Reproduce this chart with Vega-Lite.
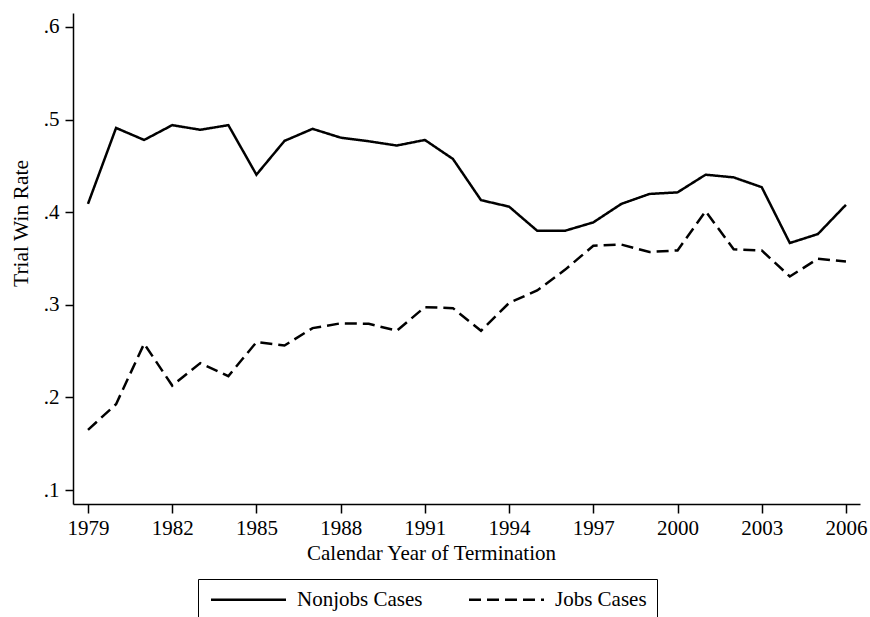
{
  "$schema": "https://vega.github.io/schema/vega-lite/v6.json",
  "width": 787,
  "height": 491,
  "autosize": {"type": "none"},
  "padding": {"left": 73, "top": 13, "right": 10, "bottom": 113},
  "background": "white",
  "config": {
    "view": {"stroke": null},
    "font": "Liberation Serif",
    "axis": {
      "grid": false,
      "domainColor": "black",
      "domainWidth": 1.5,
      "tickColor": "black",
      "tickWidth": 1.5,
      "labelFont": "Liberation Serif",
      "labelFontSize": 21,
      "labelColor": "black",
      "titleFont": "Liberation Serif",
      "titleFontSize": 21,
      "titleFontWeight": "normal",
      "titleColor": "black"
    }
  },
  "data": {
    "values": [
      {"year": 1979, "series": "Nonjobs Cases", "rate": 0.409},
      {"year": 1980, "series": "Nonjobs Cases", "rate": 0.491},
      {"year": 1981, "series": "Nonjobs Cases", "rate": 0.478},
      {"year": 1982, "series": "Nonjobs Cases", "rate": 0.494},
      {"year": 1983, "series": "Nonjobs Cases", "rate": 0.489},
      {"year": 1984, "series": "Nonjobs Cases", "rate": 0.494},
      {"year": 1985, "series": "Nonjobs Cases", "rate": 0.4405},
      {"year": 1986, "series": "Nonjobs Cases", "rate": 0.477},
      {"year": 1987, "series": "Nonjobs Cases", "rate": 0.490},
      {"year": 1988, "series": "Nonjobs Cases", "rate": 0.4805},
      {"year": 1989, "series": "Nonjobs Cases", "rate": 0.4766},
      {"year": 1990, "series": "Nonjobs Cases", "rate": 0.472},
      {"year": 1991, "series": "Nonjobs Cases", "rate": 0.478},
      {"year": 1992, "series": "Nonjobs Cases", "rate": 0.4575},
      {"year": 1993, "series": "Nonjobs Cases", "rate": 0.413},
      {"year": 1994, "series": "Nonjobs Cases", "rate": 0.406},
      {"year": 1995, "series": "Nonjobs Cases", "rate": 0.380},
      {"year": 1996, "series": "Nonjobs Cases", "rate": 0.380},
      {"year": 1997, "series": "Nonjobs Cases", "rate": 0.389},
      {"year": 1998, "series": "Nonjobs Cases", "rate": 0.409},
      {"year": 1999, "series": "Nonjobs Cases", "rate": 0.4197},
      {"year": 2000, "series": "Nonjobs Cases", "rate": 0.4214},
      {"year": 2001, "series": "Nonjobs Cases", "rate": 0.4405},
      {"year": 2002, "series": "Nonjobs Cases", "rate": 0.4376},
      {"year": 2003, "series": "Nonjobs Cases", "rate": 0.427},
      {"year": 2004, "series": "Nonjobs Cases", "rate": 0.3667},
      {"year": 2005, "series": "Nonjobs Cases", "rate": 0.3764},
      {"year": 2006, "series": "Nonjobs Cases", "rate": 0.408},
      {"year": 1979, "series": "Jobs Cases", "rate": 0.165},
      {"year": 1980, "series": "Jobs Cases", "rate": 0.1927},
      {"year": 1981, "series": "Jobs Cases", "rate": 0.258},
      {"year": 1982, "series": "Jobs Cases", "rate": 0.2128},
      {"year": 1983, "series": "Jobs Cases", "rate": 0.237},
      {"year": 1984, "series": "Jobs Cases", "rate": 0.223},
      {"year": 1985, "series": "Jobs Cases", "rate": 0.2597},
      {"year": 1986, "series": "Jobs Cases", "rate": 0.256},
      {"year": 1987, "series": "Jobs Cases", "rate": 0.2748},
      {"year": 1988, "series": "Jobs Cases", "rate": 0.280},
      {"year": 1989, "series": "Jobs Cases", "rate": 0.2795},
      {"year": 1990, "series": "Jobs Cases", "rate": 0.272},
      {"year": 1991, "series": "Jobs Cases", "rate": 0.2975},
      {"year": 1992, "series": "Jobs Cases", "rate": 0.2964},
      {"year": 1993, "series": "Jobs Cases", "rate": 0.272},
      {"year": 1994, "series": "Jobs Cases", "rate": 0.302},
      {"year": 1995, "series": "Jobs Cases", "rate": 0.3155},
      {"year": 1996, "series": "Jobs Cases", "rate": 0.338},
      {"year": 1997, "series": "Jobs Cases", "rate": 0.3638},
      {"year": 1998, "series": "Jobs Cases", "rate": 0.365},
      {"year": 1999, "series": "Jobs Cases", "rate": 0.357},
      {"year": 2000, "series": "Jobs Cases", "rate": 0.3587},
      {"year": 2001, "series": "Jobs Cases", "rate": 0.401},
      {"year": 2002, "series": "Jobs Cases", "rate": 0.360},
      {"year": 2003, "series": "Jobs Cases", "rate": 0.3587},
      {"year": 2004, "series": "Jobs Cases", "rate": 0.3306},
      {"year": 2005, "series": "Jobs Cases", "rate": 0.3497},
      {"year": 2006, "series": "Jobs Cases", "rate": 0.3468}
    ]
  },
  "mark": {"type": "line", "color": "black", "strokeWidth": 2.5},
  "encoding": {
    "x": {
      "field": "year",
      "type": "quantitative",
      "scale": {"domain": [1978.466, 2006.5], "nice": false, "zero": false},
      "axis": {
        "values": [1979, 1982, 1985, 1988, 1991, 1994, 1997, 2000, 2003, 2006],
        "format": "d",
        "tickSize": 9,
        "labelPadding": 4,
        "title": "Calendar Year of Termination",
        "titleX": 358,
        "titleY": 55,
        "titleAlign": "center",
        "titleAnchor": null,
        "titleBaseline": "alphabetic"
      }
    },
    "y": {
      "field": "rate",
      "type": "quantitative",
      "scale": {"domain": [0.0849, 0.6151], "nice": false, "zero": false},
      "axis": {
        "values": [0.1, 0.2, 0.3, 0.4, 0.5, 0.6],
        "labelExpr": "substring(format(datum.value, '.1f'), 1)",
        "tickSize": 8,
        "labelPadding": 6,
        "title": "Trial Win Rate",
        "titleFontSize": 21.5,
        "titleAngle": 270,
        "titleX": -46,
        "titleY": 210,
        "titleAlign": "center",
        "titleBaseline": "alphabetic"
      }
    },
    "strokeDash": {
      "field": "series",
      "type": "nominal",
      "scale": {"domain": ["Nonjobs Cases", "Jobs Cases"], "range": [[1, 0], [12, 6]]},
      "legend": {
        "orient": "none",
        "legendX": 125,
        "legendY": 566,
        "direction": "horizontal",
        "columns": 2,
        "title": null,
        "symbolType": "M-1,0L9,0",
        "symbolSize": 225,
        "symbolStrokeWidth": 2.5,
        "symbolStrokeColor": "black",
        "labelFont": "Liberation Serif",
        "labelFontSize": 21,
        "labelColor": "black",
        "labelOffset": 68,
        "columnPadding": 41,
        "padding": 10,
        "strokeColor": "black",
        "fillColor": "white"
      }
    }
  }
}
